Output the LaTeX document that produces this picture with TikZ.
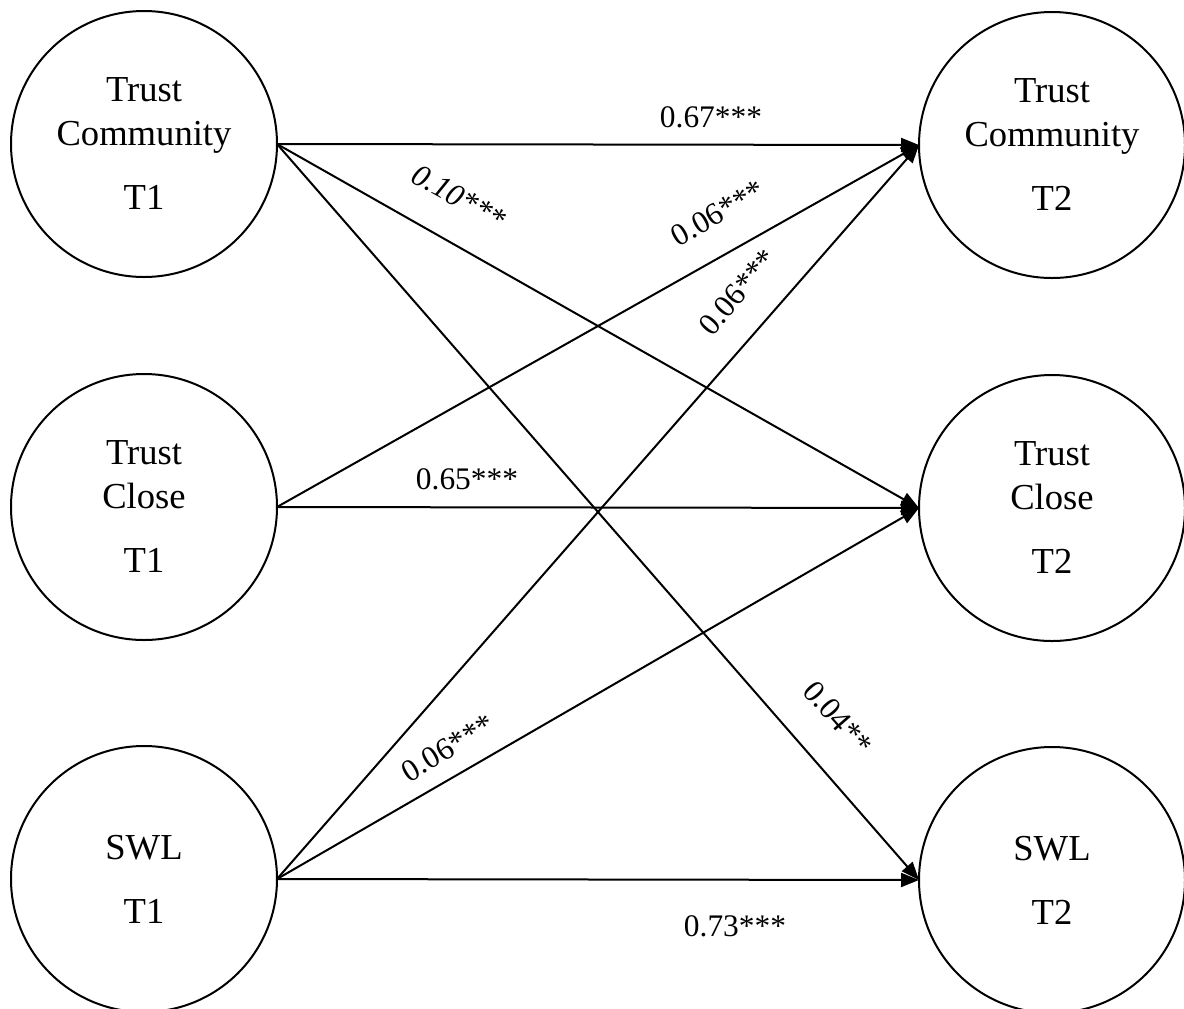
\documentclass[tikz,border=0pt]{standalone}
\usepackage{fontspec}
\setmainfont{Liberation Serif}
\usetikzlibrary{arrows.meta}
\begin{document}
\begin{tikzpicture}[x=0.5pt,y=-0.5pt,
  latent/.style={circle,draw,line width=1pt,minimum size=133pt,inner sep=0pt,
    outer sep=0pt,align=center,font=\fontsize{18.3}{22}\selectfont},
  effect/.style={line width=1pt,-{Triangle[length=9pt,width=7pt]}},
  coef/.style={font=\fontsize{15.7}{18}\selectfont,inner sep=0pt}]
  % canvas
  \fill[white] (0,0) rectangle (1184,1008);
  \useasboundingbox (0,0) rectangle (1184,1008);

  % latent variables, wave 1 (left) and wave 2 (right)
  \node[latent] (tc1) at (144,144) {Trust\\Community\\[10pt]T1};
  \node[latent] (cl1) at (144,507) {Trust\\Close\\[10pt]T1};
  \node[latent] (sw1) at (144,879) {SWL\\[10pt]T1};
  \node[latent] (tc2) at (1052,145) {Trust\\Community\\[10pt]T2};
  \node[latent] (cl2) at (1052,508) {Trust\\Close\\[10pt]T2};
  \node[latent] (sw2) at (1052,880) {SWL\\[10pt]T2};

  % cross-lagged and autoregressive paths
  \draw[effect] (tc1.east) -- (tc2.west);
  \draw[effect] (tc1.east) -- (cl2.west);
  \draw[effect] (tc1.east) -- (sw2.west);
  \draw[effect] (cl1.east) -- (tc2.west);
  \draw[effect] (cl1.east) -- (cl2.west);
  \draw[effect] (sw1.east) -- (tc2.west);
  \draw[effect] (sw1.east) -- (cl2.west);
  \draw[effect] (sw1.east) -- (sw2.west);

  % path coefficients
  \node[coef,anchor=base] (k67) at (711,127) {0.67***};
  \node[coef,rotate=-29] (k10) at (459,197) {\itshape 0.10***};
  \node[coef,rotate=30] (k06a) at (718,213) {0.06***};
  \node[coef,rotate=49] (k06b) at (738,292) {0.06***};
  \node[coef,anchor=base] (k65) at (467,489) {0.65***};
  \node[coef,rotate=31] (k06c) at (448,748) {0.06***};
  \node[coef,rotate=-49] (k04) at (838,718) {0.04**};
  \node[coef,anchor=base] (k73) at (735,936) {0.73***};
\end{tikzpicture}
\end{document}
